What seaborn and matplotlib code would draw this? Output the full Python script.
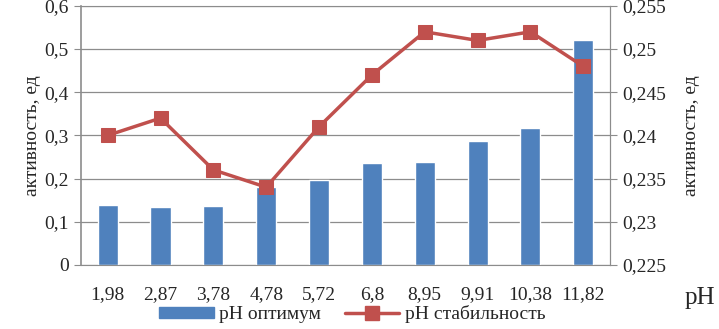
import numpy as np
import pandas as pd
import matplotlib.pyplot as plt
import seaborn as sns
from matplotlib.lines import Line2D
from matplotlib.patches import Patch

ph_labels = ["1,98", "2,87", "3,78", "4,78", "5,72", "6,8", "8,95", "9,91", "10,38", "11,82"]
ph_optimum = [0.139, 0.135, 0.137, 0.180, 0.196, 0.237, 0.238, 0.286, 0.316, 0.522]
ph_stability = [0.240, 0.242, 0.236, 0.234, 0.241, 0.247, 0.252, 0.251, 0.252, 0.248]

blue = "#4F81BD"
red = "#C0504D"
grey = "#8c8c8c"

sns.set_style("white")
plt.rcParams['font.family'] = ['Liberation Serif', 'DejaVu Serif']

df = pd.DataFrame({"ph": ph_labels, "opt": ph_optimum,
                   "stab": ph_stability, "pos": np.arange(len(ph_labels))})

fig = plt.figure(figsize=(7.19, 3.29), dpi=100)
ax = fig.add_axes([0.113, 0.195, 0.735, 0.787])

sns.barplot(data=df, x="ph", y="opt", color=blue, width=0.38, saturation=1, ax=ax, zorder=2)
ax.set_ylim(0, 0.6)
ax.set_yticks(np.arange(0, 0.61, 0.1))
ax.set_yticklabels(["0"] + [f"{v:.1f}".replace(".", ",") for v in np.arange(0.1, 0.61, 0.1)], fontsize=14)
ax.set_xlim(-0.5, len(ph_labels) - 0.5)
ax.grid(axis="y", color=grey, linewidth=0.9, zorder=0)
ax.set_axisbelow(True)
ax.set_xlabel("")
ax.set_ylabel("активность, ед", fontsize=14, labelpad=2)

# category tick marks between bars, like Excel
ax.set_xticks(np.arange(len(ph_labels)))
ax.set_xticklabels(ph_labels, fontsize=14)
ax.tick_params(axis="x", which="major", length=0, pad=15)
ax.set_xticks(np.arange(-0.5, len(ph_labels), 1), minor=True)
ax.tick_params(axis="x", which="minor", length=5, color=grey, direction="out")
ax.tick_params(axis="y", length=5, color=grey, direction="out", pad=4)

for s in ["left", "bottom", "right", "top"]:
    ax.spines[s].set_color(grey)
ax.spines["left"].set_linewidth(1.2)

ax2 = ax.twinx()
sns.lineplot(data=df, x="pos", y="stab", color=red, marker="s", markersize=10,
             markeredgecolor=red, linewidth=2.5, ax=ax2, zorder=3)
ax2.set_ylim(0.225, 0.255)
ax2.set_yticks(np.arange(0.225, 0.2551, 0.005))
ax2.set_yticklabels([f"{v:.3f}".rstrip("0").replace(".", ",") for v in np.arange(0.225, 0.2551, 0.005)], fontsize=14)
ax2.set_xlim(-0.5, len(ph_labels) - 0.5)
ax2.set_ylabel("активность, ед", fontsize=14, labelpad=12)
ax2.set_xlabel("")
ax2.tick_params(axis="y", length=5, color=grey, direction="out", pad=4)
for s in ["top", "left", "bottom"]:
    ax2.spines[s].set_visible(False)
ax2.spines["right"].set_color(grey)

fig.text(0.952, 0.075, "pH", fontsize=18)

handles = [Patch(facecolor=blue, edgecolor=blue),
           Line2D([0], [0], color=red, marker="s", markersize=10, linewidth=2.5)]
fig.legend(handles, ["pH оптимум", "pH стабильность"], loc="lower center",
           bbox_to_anchor=(0.49, -0.035), ncol=2, frameon=False, fontsize=14,
           handlelength=2.8, handleheight=0.5, handletextpad=0.3, columnspacing=1.2)

fig.savefig("out.png", dpi=100)
